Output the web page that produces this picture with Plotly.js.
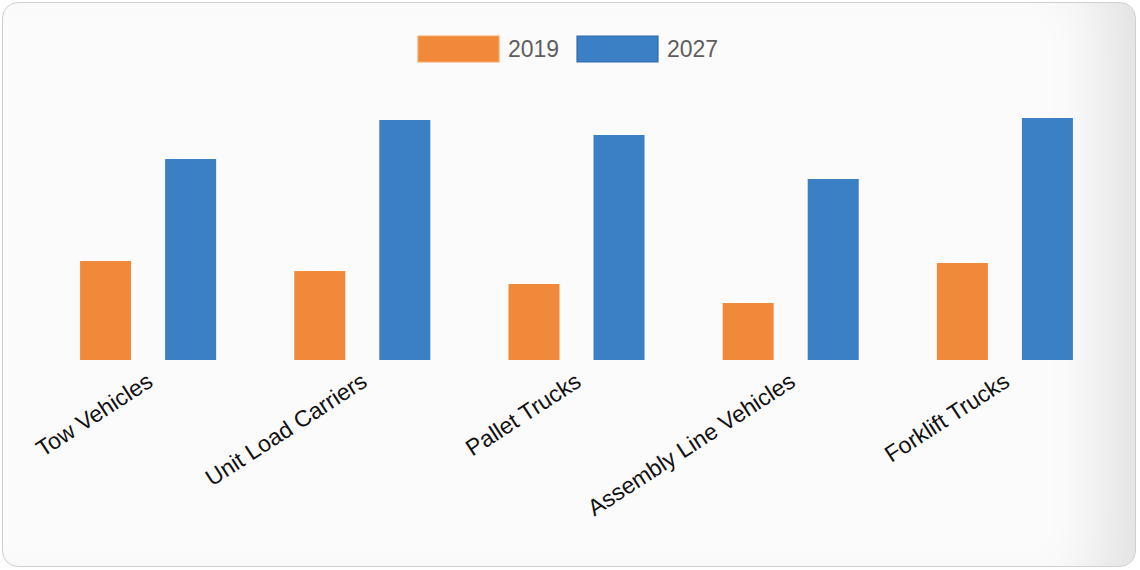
<!DOCTYPE html>
<html>
<head>
<meta charset="utf-8">
<script src="https://cdn.plot.ly/plotly-3.0.1.min.js"></script>
<style>
  html, body { margin: 0; padding: 0; background: #ffffff; width: 1140px; height: 570px; overflow: hidden; }
  #card {
    position: absolute; left: 2px; top: 2px; width: 1132px; height: 563px;
    border: 1px solid #cfcfcf; border-radius: 16px; background: #fcfbfc;
    box-shadow: inset -70px 0 60px -40px rgba(0,0,0,0.10);
    overflow: hidden;
  }
  #chart { position: absolute; left: -3px; top: -3px; width: 1140px; height: 570px; }
</style>
</head>
<body>
<div id="card"><div id="chart"></div></div>
<script>
const categories = ["Tow Vehicles", "Unit Load Carriers", "Pallet Trucks", "Assembly Line Vehicles", "Forklift Trucks"];
const seriesNames = ["2019", "2027"];
const values2019 = [0.99, 0.89, 0.76, 0.57, 0.97];
const values2027 = [2.01, 2.40, 2.25, 1.81, 2.42];
const seriesColors = ["#f0893a", "#3b7fc4"];
const seriesBorders = ["#f5a865", "#2f6db0"];

const seriesValues = [values2019, values2027];
const traces = seriesNames.map((name, i) => ({
  type: "bar",
  name: name,
  x: categories,
  y: seriesValues[i],
  marker: { color: seriesColors[i], line: { width: 0 } },
  hoverinfo: "x+y+name"
}));

// Custom legend (large swatches) built from series names/colors
const W = 1071, H = 260;
const legendSwatchLeft = [418, 577];
const shapes = [], annotations = [];
seriesNames.forEach((name, i) => {
  const x0 = legendSwatchLeft[i];
  shapes.push({
    type: "rect", xref: "paper", yref: "paper",
    x0: (x0 - 41) / W, x1: (x0 + 81 - 41) / W,
    y0: (360 - 62) / H, y1: (360 - 36) / H,
    fillcolor: seriesColors[i], line: { color: seriesBorders[i], width: 1.2 }
  });
  annotations.push({
    xref: "paper", yref: "paper",
    x: (x0 + 88 - 41) / W, y: (360 - 49) / H,
    xanchor: "left", yanchor: "middle", showarrow: false,
    text: name, font: { family: "Liberation Sans, Arial, sans-serif", size: 23, color: "#5e5e5e" }
  });
});

const layout = {
  width: 1140, height: 570,
  margin: { l: 41, r: 28, t: 100, b: 210 },
  paper_bgcolor: "rgba(0,0,0,0)",
  plot_bgcolor: "rgba(0,0,0,0)",
  barmode: "group",
  bargap: 0.206,
  bargroupgap: 0.4,
  showlegend: false,
  xaxis: {
    type: "category",
    tickangle: -33,
    tickfont: { family: "Liberation Sans, Arial, sans-serif", size: 23, color: "#111111" },
    ticklabelstandoff: 3,
    showgrid: false, zeroline: false, showline: false, ticks: "",
    automargin: false
  },
  yaxis: {
    range: [0, 2.6],
    visible: false, showgrid: false, zeroline: false, fixedrange: true
  },
  shapes: shapes,
  annotations: annotations,
  font: { family: "Liberation Sans, Arial, sans-serif" }
};

Plotly.newPlot("chart", traces, layout, { displayModeBar: false, staticPlot: true });
</script>
</body>
</html>
